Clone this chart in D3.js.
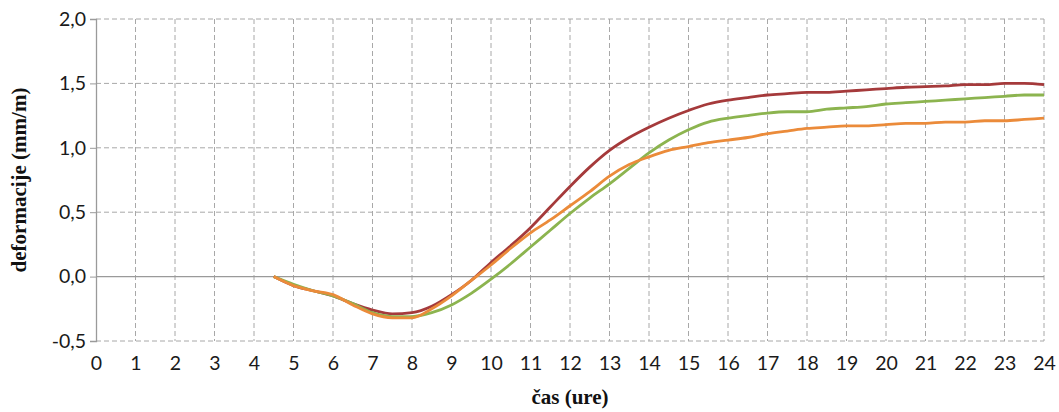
<!DOCTYPE html>
<html lang="sl">

<head>
    <meta charset="UTF-8">
    <title>deformacije</title>
    <script src="https://cdn.jsdelivr.net/npm/d3@7/dist/d3.min.js"></script>
    <style>
        body {
            margin: 0;
            background: #fff;
        }

        .tick text {
            font-family: Lato, "Open Sans", sans-serif;
            font-size: 19.5px;
            fill: #1a1a1a;
        }

        .grid line {
            stroke: #a8a8a8;
            stroke-dasharray: 5, 3;
        }

        .title {
            font-family: "Liberation Serif", serif;
            font-weight: bold;
            font-size: 21px;
            fill: #111;
        }
    </style>
</head>

<body>
</body>

<script>
    // ure
    var hours = [4.5, 5, 5.5, 6, 6.5, 7, 7.5, 8, 8.5, 9, 9.5, 10, 10.5, 11, 11.5, 12, 12.5, 13, 13.5, 14,
        14.5, 15, 15.5, 16, 16.5, 17, 17.5, 18, 18.5, 19, 19.5, 20, 20.5, 21, 21.5, 22, 22.5, 23, 23.5, 24]

    var redValues = [0.00, -0.07, -0.11, -0.15, -0.21, -0.26, -0.29, -0.28, -0.23, -0.14, -0.03, 0.11, 0.24, 0.38, 0.54, 0.70, 0.85, 0.98, 1.08, 1.16,
        1.23, 1.29, 1.34, 1.37, 1.39, 1.41, 1.42, 1.43, 1.43, 1.44, 1.45, 1.46, 1.47, 1.475, 1.48, 1.49, 1.49, 1.50, 1.50, 1.49]

    var greenValues = [0.00, -0.06, -0.11, -0.15, -0.21, -0.28, -0.31, -0.31, -0.28, -0.22, -0.13, -0.02, 0.10, 0.23, 0.36, 0.49, 0.61, 0.72, 0.84, 0.96,
        1.06, 1.14, 1.20, 1.23, 1.25, 1.27, 1.28, 1.28, 1.30, 1.31, 1.32, 1.34, 1.35, 1.36, 1.37, 1.38, 1.39, 1.40, 1.41, 1.41]

    var orangeValues = [0.00, -0.07, -0.11, -0.14, -0.22, -0.29, -0.32, -0.32, -0.25, -0.15, -0.03, 0.09, 0.22, 0.34, 0.44, 0.55, 0.66, 0.78, 0.87, 0.93,
        0.98, 1.01, 1.04, 1.06, 1.08, 1.11, 1.13, 1.15, 1.16, 1.17, 1.17, 1.18, 1.19, 1.19, 1.20, 1.20, 1.21, 1.21, 1.22, 1.23]

    var xTicks = d3.range(0, 25)
    var yTicks = [-0.5, 0, 0.5, 1.0, 1.5, 2.0]

    const width = 1059
    const height = 412
    const mLeft = 96, mRight = 1044, mTop = 19, mBottom = 341

    var svg = d3.select('body').append('svg').attr('width', width).attr('height', height)

    const x = d3.scaleLinear().domain([0, 24]).range([mLeft, mRight])
    const y = d3.scaleLinear().domain([-0.5, 2.0]).range([mBottom, mTop])
    const fmt = d => d3.format('.1f')(d).replace('.', ',').replace('−', '-')

    // mreza
    svg.append('g').attr('class', 'grid')
        .selectAll('line').data(yTicks.filter(d => d !== 0)).enter()
        .append('line')
        .attr('x1', mLeft).attr('x2', mRight)
        .attr('y1', d => y(d)).attr('y2', d => y(d))

    svg.append('g').attr('class', 'grid')
        .selectAll('line').data(xTicks.filter(d => d !== 0)).enter()
        .append('line')
        .attr('x1', d => x(d)).attr('x2', d => x(d))
        .attr('y1', mTop).attr('y2', mBottom)

    // os y
    var yAxis = d3.axisLeft(y).tickValues(yTicks).tickFormat(fmt).tickSize(6).tickPadding(4)
    var gy = svg.append('g').attr('transform', 'translate(' + mLeft + ',0)').call(yAxis)
    gy.select('.domain').attr('stroke', '#9a9a9a').attr('stroke-width', 1.3)
    gy.selectAll('.tick line').attr('stroke', '#9a9a9a')

    // nicla
    svg.append('line')
        .attr('x1', mLeft).attr('x2', mRight)
        .attr('y1', y(0)).attr('y2', y(0))
        .attr('stroke', '#9a9a9a').attr('stroke-width', 1.3)

    // os x
    var xAxis = d3.axisBottom(x).tickValues(xTicks).tickSize(0).tickPadding(15)
    var gx = svg.append('g').attr('transform', 'translate(0,' + mBottom + ')').call(xAxis)
    gx.select('.domain').remove()

    // krivulje
    var line = d3.line()
        .x((d, i) => x(hours[i]))
        .y(d => y(d))
        .curve(d3.curveMonotoneX)

    var series = [
        { values: redValues, color: '#a53a3b' },
        { values: greenValues, color: '#8cb44f' },
        { values: orangeValues, color: '#eb8b3a' }
    ]

    svg.selectAll('path.s')
        .data(series)
        .enter()
        .append('path')
        .attr('class', 's')
        .attr('d', d => line(d.values))
        .attr('fill', 'none')
        .attr('stroke', d => d.color)
        .attr('stroke-width', 2.8)
        .attr('stroke-linejoin', 'round')

    // naslovi
    svg.append('text').attr('class', 'title')
        .attr('text-anchor', 'middle')
        .attr('transform', 'translate(26,' + ((mTop + mBottom) / 2) + ') rotate(-90)')
        .text('deformacije (mm/m)')

    svg.append('text').attr('class', 'title')
        .attr('text-anchor', 'middle')
        .attr('x', (mLeft + mRight) / 2)
        .attr('y', 404)
        .text('čas (ure)')
</script>

</html>
